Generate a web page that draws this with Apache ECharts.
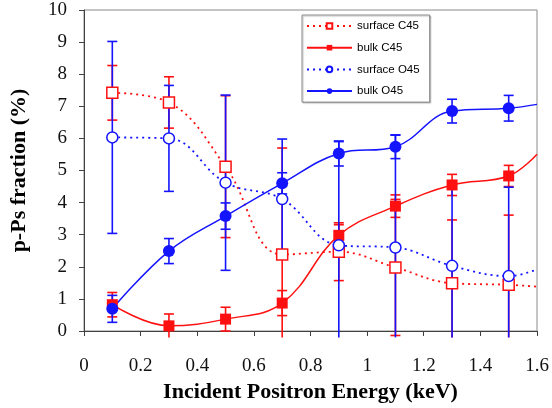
<!DOCTYPE html>
<html>
<head>
<meta charset="utf-8">
<script src="https://cdn.jsdelivr.net/npm/echarts@6/dist/echarts.min.js"></script>
<style>
  html, body { margin: 0; padding: 0; background: #fff; }
  #chart { width: 552px; height: 408px; }
</style>
</head>
<body>
<div id="chart"></div>
<script>
// energies (keV)
const energy = [0.1, 0.3, 0.5, 0.7, 0.9, 1.1, 1.3, 1.5]
// curve end at the right edge of the plot
const edgeX = 1.6

const surfaceC45 = [7.42, 7.12, 5.12, 2.38, 2.47, 1.98, 1.49, 1.44]
const surfaceC45Err = [0.85, 0.8, 2.21, 3.32, 0.9, 2.12, 1.97, 2.17]
const surfaceC45Edge = 1.38

const bulkC45 = [0.82, 0.16, 0.37, 0.87, 2.98, 3.89, 4.55, 4.83]
const bulkC45Err = [0.38, 0.37, 0.37, 0.39, 0.33, 0.35, 0.33, 0.33]
const bulkC45Edge = 5.51

const surfaceO45 = [6.03, 6.0, 4.62, 4.11, 2.67, 2.6, 2.03, 1.71]
const surfaceO45Err = [2.99, 1.65, 2.73, 1.87, 3.23, 3.5, 2.5, 2.77]
const surfaceO45Edge = 1.92

const bulkO45 = [0.69, 2.49, 3.58, 4.6, 5.53, 5.74, 6.85, 6.94]
const bulkO45Err = [0.42, 0.39, 0.41, 0.33, 0.39, 0.37, 0.37, 0.4]
const bulkO45Edge = 7.06

const RED = '#ff1010'
const BLUE = '#1414ff'

function lineData(vals, edge) {
    const d = energy.map((x, i) => [x, vals[i]])
    d.push({ value: [edgeX, edge], symbol: 'none' })
    return d
}

// error bars: [x, value, err]
function errSeries(vals, errs, color) {
    return {
        type: 'custom',
        silent: true,
        z: 1,
        clip: false,
        data: energy.map((x, i) => [x, vals[i], errs[i]]),
        renderItem: function (params, api) {
            const x = api.value(0)
            const v = api.value(1)
            const e = api.value(2)
            let lo = v - e
            const loCap = lo >= -0.2
            if (!loCap) lo = -0.2
            const top = api.coord([x, v + e])
            const bot = api.coord([x, lo])
            const w = 5
            const style = { stroke: color, lineWidth: 1.6 }
            const kids = [
                { type: 'line', shape: { x1: top[0], y1: top[1], x2: bot[0], y2: bot[1] }, style: style },
                { type: 'line', shape: { x1: top[0] - w, y1: top[1], x2: top[0] + w, y2: top[1] }, style: style }
            ]
            if (loCap) {
                kids.push({ type: 'line', shape: { x1: bot[0] - w, y1: bot[1], x2: bot[0] + w, y2: bot[1] }, style: style })
            }
            return { type: 'group', children: kids }
        }
    }
}

const chart = echarts.init(document.getElementById('chart'))
chart.setOption({
    animation: false,
    backgroundColor: '#fff',
    grid: {
        left: 78,
        right: 15,
        top: 10,
        bottom: 77,
        show: true,
        borderColor: '#8a8a8a',
        borderWidth: 1
    },
    legend: {
        data: ['surface C45', 'bulk C45', 'surface O45', 'bulk O45'],
        orient: 'vertical',
        left: 302,
        top: 15,
        padding: [5, 10, 5, 4],
        itemWidth: 45,
        itemHeight: 7,
        itemGap: 9.7,
        borderColor: '#8c8c8c',
        borderWidth: 1,
        backgroundColor: '#fff',
        shadowColor: 'rgba(0,0,0,0.25)',
        shadowOffsetX: 1,
        shadowOffsetY: 1,
        shadowBlur: 1,
        textStyle: {
            fontFamily: 'Liberation Sans',
            fontSize: 11.5,
            lineHeight: 12,
            color: '#000'
        }
    },
    xAxis: {
        type: 'value',
        min: 0,
        max: 1.6,
        interval: 0.2,
        name: 'Incident Positron Energy (keV)',
        nameLocation: 'middle',
        nameGap: 46,
        nameTextStyle: {
            fontFamily: 'Liberation Serif',
            fontWeight: 'bold',
            fontSize: 22,
            color: '#000'
        },
        axisLine: { lineStyle: { color: '#404040', width: 1 } },
        axisTick: { length: 5, lineStyle: { color: '#404040' } },
        axisLabel: {
            margin: 26,
            fontFamily: 'Liberation Serif',
            fontSize: 19,
            color: '#111'
        },
        splitLine: { show: false }
    },
    yAxis: {
        type: 'value',
        min: 0,
        max: 10,
        interval: 1,
        name: 'p-Ps fraction (%)',
        nameLocation: 'middle',
        nameGap: 54,
        nameTextStyle: {
            fontFamily: 'Liberation Serif',
            fontWeight: 'bold',
            fontSize: 22,
            color: '#000'
        },
        axisLine: { show: true, lineStyle: { color: '#404040', width: 1 } },
        axisTick: { show: true, length: 5, lineStyle: { color: '#404040' } },
        axisLabel: {
            margin: 17,
            fontFamily: 'Liberation Serif',
            fontSize: 19,
            color: '#111'
        },
        splitLine: { show: false }
    },
    series: [
        errSeries(surfaceC45, surfaceC45Err, RED),
        errSeries(bulkC45, bulkC45Err, RED),
        errSeries(surfaceO45, surfaceO45Err, BLUE),
        errSeries(bulkO45, bulkO45Err, BLUE),
        {
            name: 'surface C45',
            type: 'line',
            z: 3,
            data: lineData(surfaceC45, surfaceC45Edge),
            smooth: 0.4,
            symbol: 'rect',
            symbolSize: 11,
            color: RED,
            lineStyle: { color: RED, width: 1.8, type: [2, 4] },
            itemStyle: { color: '#fff', borderColor: RED, borderWidth: 1.5 }
        },
        {
            name: 'bulk C45',
            type: 'line',
            z: 3,
            data: lineData(bulkC45, bulkC45Edge),
            smooth: 0.4,
            symbol: 'rect',
            symbolSize: 11,
            color: RED,
            lineStyle: { color: RED, width: 1.5 },
            itemStyle: { color: RED }
        },
        {
            name: 'surface O45',
            type: 'line',
            z: 3,
            data: lineData(surfaceO45, surfaceO45Edge),
            smooth: 0.4,
            symbol: 'circle',
            symbolSize: 11,
            color: BLUE,
            lineStyle: { color: BLUE, width: 1.8, type: [2, 4] },
            itemStyle: { color: '#fff', borderColor: BLUE, borderWidth: 1.5 }
        },
        {
            name: 'bulk O45',
            type: 'line',
            z: 3,
            data: lineData(bulkO45, bulkO45Edge),
            smooth: 0.4,
            symbol: 'circle',
            symbolSize: 12,
            color: BLUE,
            lineStyle: { color: BLUE, width: 1.5 },
            itemStyle: { color: BLUE }
        }
    ]
})
</script>
</body>
</html>
